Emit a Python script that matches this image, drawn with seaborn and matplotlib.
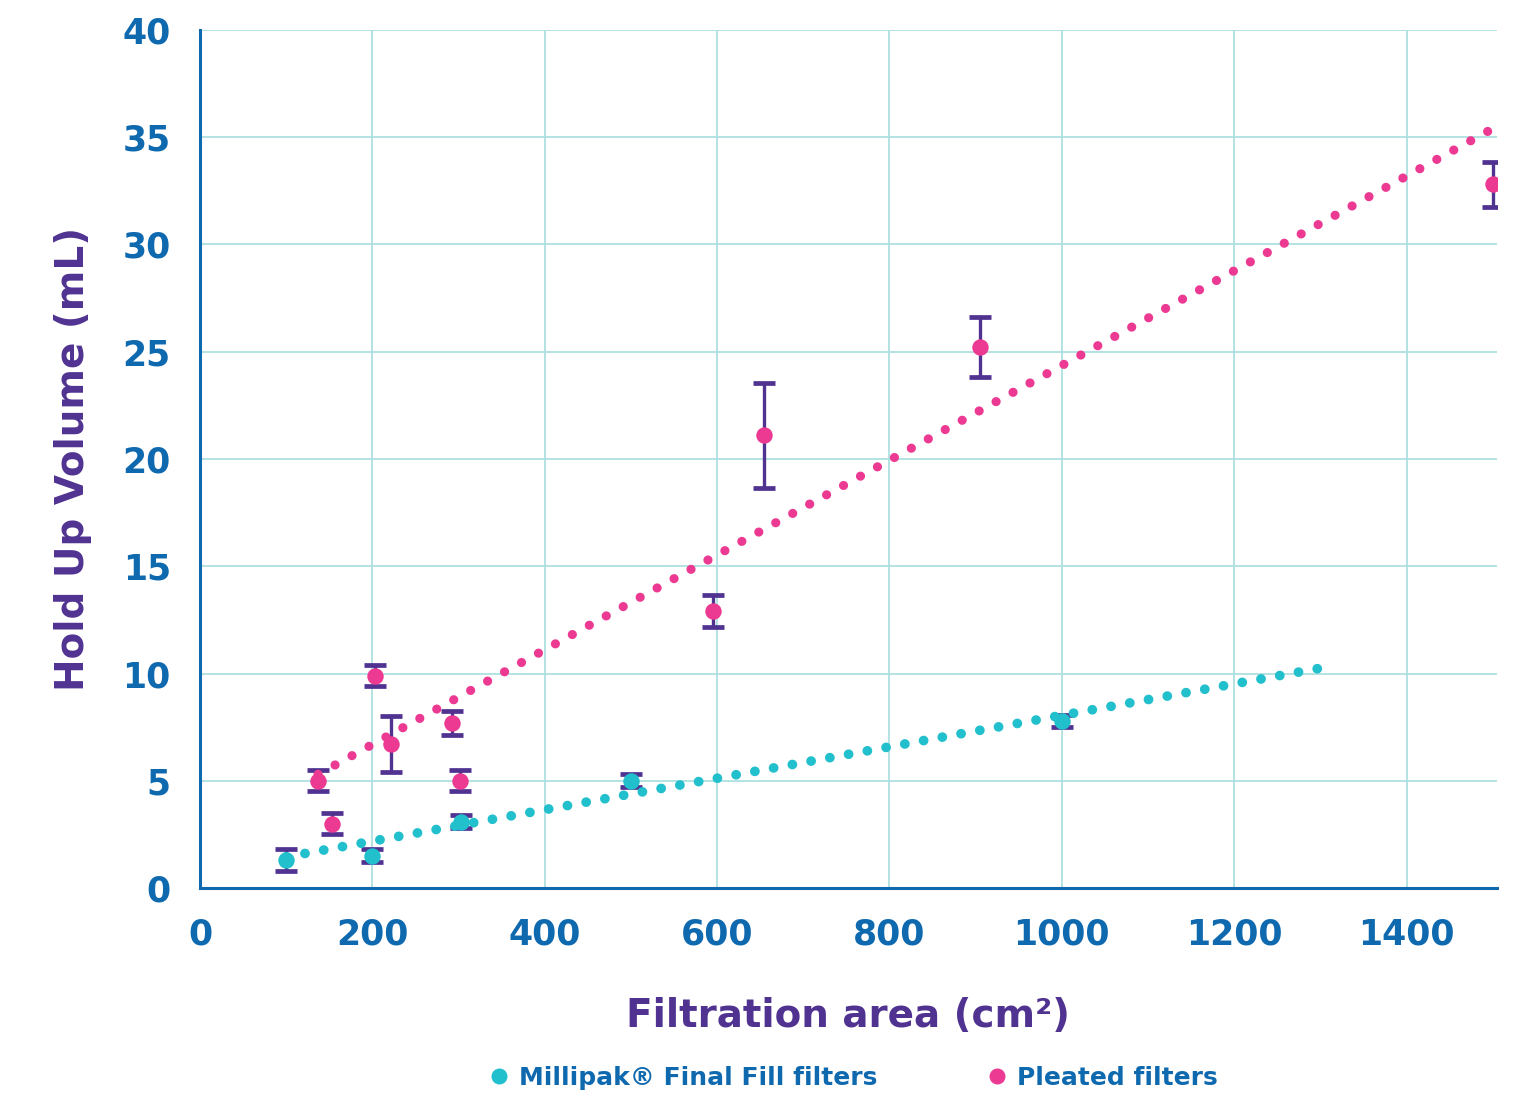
import numpy as np
import pandas as pd
import matplotlib.pyplot as plt
from matplotlib.lines import Line2D
import seaborn as sns

# Pleated filters (pink)
pleated_area = [137, 153, 203, 222, 292, 302, 595, 654, 905, 1500]
pleated_vol = [5.0, 3.0, 9.9, 6.7, 7.7, 5.0, 12.9, 21.1, 25.2, 32.8]
pleated_err = [0.5, 0.5, 0.5, 1.3, 0.55, 0.5, 0.75, 2.45, 1.4, 1.05]

# Millipak Final Fill filters (teal)
millipak_area = [100, 200, 303, 500, 1000]
millipak_vol = [1.3, 1.5, 3.1, 5.0, 7.8]
millipak_err = [0.5, 0.3, 0.3, 0.3, 0.28]

# trendline end points
pleated_trend_x = [137, 1500]
pleated_trend_y = [5.3, 35.4]
millipak_trend_x = [100, 1300]
millipak_trend_y = [1.45, 10.25]

x_ticks = [0, 200, 400, 600, 800, 1000, 1200, 1400]
y_ticks = [0, 5, 10, 15, 20, 25, 30, 35, 40]

PINK = '#EC3A93'
TEAL = '#22BFCC'
PURPLE = '#503291'
BLUE = '#0F69AF'
GRID = '#AEDFDF'

sns.set_style('white')
plt.rcParams['font.family'] = ['DejaVu Sans']

fig = plt.figure(figsize=(15.29, 10.99), dpi=100)
ax = fig.add_axes([200 / 1529, 211 / 1099, 1297 / 1529, 858 / 1099])

# trendlines
sns.lineplot(x=pleated_trend_x, y=pleated_trend_y, ax=ax, color=PINK, lw=6.6,
             linestyle=(0, (0.01, 2.1)), dash_capstyle='round', sort=False,
             estimator=None, zorder=4)
sns.lineplot(x=millipak_trend_x, y=millipak_trend_y, ax=ax, color=TEAL, lw=7.0,
             linestyle=(0, (0.01, 1.95)), dash_capstyle='round', sort=False,
             estimator=None, zorder=4)

# error bars
ax.errorbar(pleated_area, pleated_vol, yerr=pleated_err, fmt='none', ecolor=PURPLE,
            elinewidth=2.4, capsize=8, capthick=3.4, zorder=2)
ax.errorbar(millipak_area, millipak_vol, yerr=millipak_err, fmt='none', ecolor=PURPLE,
            elinewidth=2.4, capsize=8, capthick=3.4, zorder=2)

# points
sns.scatterplot(x=pleated_area, y=pleated_vol, ax=ax, color=PINK, s=140,
                linewidth=0, zorder=3)
sns.scatterplot(x=millipak_area, y=millipak_vol, ax=ax, color=TEAL, s=140,
                linewidth=0, zorder=3)

ax.set_xlim(0, 1505)
ax.set_ylim(0, 40)
ax.set_xticks(x_ticks)
ax.set_yticks(y_ticks)
ax.grid(True, color=GRID, lw=1.3)
ax.set_axisbelow(True)
for side in ['top', 'right']:
    ax.spines[side].set_visible(False)
for side in ['left', 'bottom']:
    ax.spines[side].set_color(BLUE)
    ax.spines[side].set_linewidth(2.2)
ax.tick_params(length=0, labelsize=25, labelcolor=BLUE, pad=21)
for lab in ax.get_xticklabels() + ax.get_yticklabels():
    lab.set_fontweight('bold')

ax.set_xlabel('Filtration area (cm²)', fontsize=28, fontweight='bold', color=PURPLE, labelpad=33)
ax.set_ylabel('Hold Up Volume (mL)', fontsize=28, fontweight='bold', color=PURPLE, labelpad=22)

handles = [Line2D([], [], lw=0, marker='o', markersize=10.5, color=TEAL),
           Line2D([], [], lw=0, marker='o', markersize=10.5, color=PINK)]
leg = fig.legend(handles, ['Millipak® Final Fill filters', 'Pleated filters'],
                 loc='center', bbox_to_anchor=(852 / 1529, 1 - 1078 / 1099), ncol=2,
                 frameon=False, handletextpad=0.3, columnspacing=4.3, handlelength=1,
                 prop={'family': 'DejaVu Sans', 'weight': 'bold', 'size': 18})
for t in leg.get_texts():
    t.set_color(BLUE)

fig.savefig('out.png', dpi=100)
